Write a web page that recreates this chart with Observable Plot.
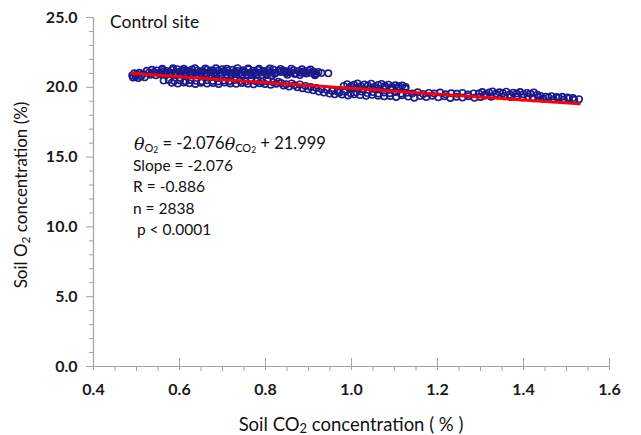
<!DOCTYPE html>
<html><head><meta charset="utf-8">
<script src="https://cdn.jsdelivr.net/npm/d3@7"></script>
<script src="https://cdn.jsdelivr.net/npm/@observablehq/plot@0.6"></script>
<style>
html,body{margin:0;padding:0;background:#fff;}
#chart svg{display:block;}
</style>
</head><body><div id="chart"></div>
<script>
// ---- data: [CO2 %, O2 %], grouped by visible clusters ----
const leftCap = [[0.490,20.85],[0.492,20.70],[0.495,21.00],[0.498,20.78],[0.501,20.92],[0.504,20.66],[0.507,21.04],[0.511,20.80],[0.515,20.95],[0.519,20.72]];
const upperCrest = [[0.560,21.33],[0.585,21.36],[0.610,21.32],[0.636,21.37],[0.660,21.34],[0.685,21.36],[0.710,21.33],[0.735,21.37],[0.760,21.34],[0.785,21.32],[0.810,21.35],[0.835,21.31],[0.860,21.33],[0.885,21.29],[0.905,21.27]];
const upperTop = [[0.524,21.18],[0.536,21.25],[0.547,21.21],[0.559,21.28],[0.570,21.17],[0.583,21.24],[0.594,21.30],[0.606,21.22],[0.618,21.19],[0.629,21.27],[0.641,21.21],[0.653,21.16],[0.664,21.26],[0.676,21.23],[0.689,21.18],[0.700,21.29],[0.712,21.20],[0.724,21.25],[0.735,21.17],[0.748,21.22],[0.760,21.28],[0.771,21.19],[0.783,21.24],[0.795,21.16],[0.806,21.23],[0.818,21.27],[0.830,21.18],[0.842,21.21],[0.853,21.15],[0.865,21.22],[0.877,21.17],[0.889,21.13],[0.900,21.19],[0.912,21.12],[0.923,21.10]];
const upperMid = [[0.529,21.05],[0.541,21.10],[0.553,21.02],[0.564,21.12],[0.577,21.07],[0.589,21.03],[0.600,21.11],[0.612,21.06],[0.624,21.13],[0.635,21.04],[0.647,21.09],[0.659,21.01],[0.670,21.12],[0.682,21.06],[0.694,21.03],[0.706,21.10],[0.718,21.05],[0.729,21.12],[0.741,21.02],[0.753,21.08],[0.765,21.04],[0.777,21.11],[0.789,21.06],[0.800,21.01],[0.812,21.09],[0.824,21.04],[0.836,21.10],[0.848,21.03],[0.859,21.07],[0.871,21.00],[0.883,21.05],[0.895,20.99],[0.906,21.04],[0.918,20.98],[0.930,21.02]];
const upperFill = [[0.535,20.98],[0.558,21.15],[0.582,20.99],[0.606,21.15],[0.630,20.98],[0.655,21.14],[0.680,20.99],[0.703,21.15],[0.727,20.99],[0.750,21.14],[0.774,20.98],[0.798,21.13],[0.821,20.97],[0.845,21.12],[0.868,20.95],[0.892,21.08],[0.915,20.94]];
const upperLow = [[0.532,20.90],[0.545,20.86],[0.557,20.94],[0.568,20.88],[0.580,20.95],[0.592,20.87],[0.603,20.92],[0.615,20.85],[0.627,20.93],[0.639,20.89],[0.650,20.96],[0.662,20.86],[0.674,20.91],[0.686,20.94],[0.697,20.87],[0.709,20.92],[0.721,20.85],[0.733,20.95],[0.745,20.89],[0.756,20.93],[0.768,20.86],[0.780,20.91],[0.792,20.88],[0.804,20.94],[0.815,20.86],[0.851,20.90],[0.880,20.88],[0.915,20.87],[0.946,21.00]];
const lowerA = [[0.563,20.48],[0.575,20.52],[0.588,20.45],[0.601,20.50],[0.614,20.43],[0.626,20.53],[0.639,20.47],[0.652,20.44],[0.664,20.51],[0.677,20.46],[0.690,20.42],[0.703,20.49],[0.716,20.44],[0.728,20.52],[0.741,20.45],[0.754,20.41],[0.767,20.48],[0.779,20.43],[0.792,20.38],[0.805,20.44],[0.818,20.37],[0.830,20.40]];
const lowerB = [[0.582,20.32],[0.596,20.27],[0.610,20.35],[0.623,20.29],[0.637,20.24],[0.650,20.33],[0.664,20.27],[0.678,20.30],[0.691,20.23],[0.705,20.34],[0.718,20.28],[0.732,20.25],[0.745,20.31],[0.759,20.26],[0.772,20.21],[0.786,20.29],[0.799,20.24],[0.812,20.19],[0.825,20.26]];
const transition = [[0.836,20.30],[0.842,20.12],[0.848,20.22],[0.855,20.05],[0.861,20.28],[0.867,20.15],[0.874,20.00],[0.880,20.20],[0.886,19.94],[0.893,20.10],[0.899,19.86],[0.905,20.02],[0.911,19.78],[0.918,19.95],[0.924,19.70],[0.930,19.88],[0.936,19.62],[0.943,19.80],[0.949,19.55],[0.955,19.74],[0.961,19.50],[0.968,19.68]];
const blobOne = [[0.982,20.10],[0.990,20.22],[0.998,20.05],[1.006,20.18],[1.014,20.28],[1.022,20.08],[1.030,20.20],[1.038,20.12],[1.046,20.26],[1.054,20.04],[1.062,20.17],[1.070,20.24],[1.078,20.09],[1.086,20.19],[1.094,20.03],[1.102,20.14],[1.110,20.07],[1.118,20.12],[1.126,20.02],[0.995,19.92],[1.012,19.96],[1.028,19.88],[1.045,19.95],[1.061,19.90],[1.077,19.97],[1.093,19.89],[1.109,19.94],[1.125,19.91]];
const middleA = [[0.972,19.62],[0.985,19.68],[0.998,19.57],[1.011,19.64],[1.024,19.70],[1.037,19.59],[1.050,19.66],[1.063,19.55],[1.076,19.63],[1.089,19.58],[1.102,19.67],[1.115,19.54],[1.128,19.61],[1.141,19.56],[1.154,19.64],[1.167,19.52],[1.180,19.59],[1.193,19.55],[1.206,19.62],[1.219,19.50],[1.232,19.57],[1.245,19.53],[1.258,19.60],[1.271,19.49],[1.284,19.56]];
const middleB = [[0.978,19.48],[0.992,19.42],[1.006,19.50],[1.020,19.44],[1.034,19.39],[1.048,19.46],[1.062,19.40],[1.076,19.35],[1.090,19.38],[1.104,19.31],[1.118,19.43],[1.132,19.34],[1.146,19.26],[1.160,19.37],[1.174,19.30],[1.188,19.40],[1.202,19.28],[1.216,19.35],[1.230,19.24],[1.244,19.33],[1.258,19.27],[1.272,19.36],[1.286,19.25],[1.300,19.31]];
const blobTwo = [[1.296,19.55],[1.304,19.66],[1.312,19.50],[1.320,19.62],[1.328,19.70],[1.336,19.53],[1.344,19.64],[1.352,19.58],[1.360,19.68],[1.368,19.48],[1.376,19.61],[1.384,19.55],[1.392,19.66],[1.400,19.50],[1.408,19.60],[1.416,19.53],[1.424,19.63],[1.432,19.47]];
const tail = [[1.310,19.40],[1.325,19.33],[1.340,19.42],[1.355,19.36],[1.370,19.30],[1.385,19.38],[1.398,19.27],[1.410,19.34],[1.422,19.22],[1.434,19.30],[1.446,19.18],[1.458,19.27],[1.470,19.14],[1.482,19.24],[1.494,19.12],[1.506,19.20],[1.518,19.10],[1.529,19.15],[1.440,19.38],[1.452,19.33],[1.465,19.36],[1.477,19.30],[1.490,19.32],[1.502,19.27],[1.515,19.23]];

// regression reported on the chart
const fitSlope = -2.076;
const fitIntercept = 21.999;
const fitRange = [0.49, 1.53];

// axes
const xMajor = [0.4, 0.6, 0.8, 1.0, 1.2, 1.4, 1.6];
const xMinor = [0.45, 0.5, 0.55, 0.65, 0.7, 0.75, 0.85, 0.9, 0.95, 1.05, 1.1, 1.15, 1.25, 1.3, 1.35, 1.45, 1.5, 1.55];
const yMajor = [0, 5, 10, 15, 20, 25];
const yMinor = [1, 2, 3, 4, 6, 7, 8, 9, 11, 12, 13, 14, 16, 17, 18, 19, 21, 22, 23, 24];

// texts
const siteLabel = "Control site";
const statLines = ["Slope = -2.076", "R = -0.886", "n = 2838", " p < 0.0001"];

// ---- build ----
const clusters = [leftCap, upperCrest, upperTop, upperMid, upperFill, upperLow, lowerA, lowerB, transition, blobOne, middleA, middleB, blobTwo, tail];
const points = clusters.flat().map(([x, y]) => ({x, y}));
const fit = fitRange.map(x => ({x, y: fitSlope * x + fitIntercept}));

const axisColor = "#a3a3a3";
const navy = "#1a1a8c";
const font = "Lato, 'Open Sans', sans-serif";

const chart = Plot.plot({
  width: 641,
  height: 435,
  marginLeft: 93,
  marginRight: 32,
  marginTop: 17,
  marginBottom: 69,
  style: {fontFamily: font, background: "#fff", color: "#1a1a1a"},
  x: {domain: [0.4, 1.6], label: null},
  y: {domain: [0, 25], label: null},
  marks: [
    Plot.ruleX([0.4], {stroke: axisColor, strokeWidth: 1.2}),
    Plot.ruleY([0], {stroke: axisColor, strokeWidth: 1.2}),
    Plot.axisX({ticks: xMinor, tickSize: 5, tickFormat: () => "", stroke: axisColor, label: null}),
    Plot.axisX({ticks: xMajor, tickSize: 12, dy: -8, tickFormat: () => "", stroke: axisColor, label: null}),
    Plot.axisX({ticks: xMajor, tickSize: 0, tickPadding: 17, tickFormat: d => d.toFixed(1), fontSize: 16, fontWeight: "bold", fill: "#1a1a1a", label: null}),
    Plot.axisY({ticks: yMinor, tickSize: 4, tickFormat: () => "", stroke: axisColor, label: null}),
    Plot.axisY({ticks: yMajor, tickSize: 7, tickFormat: () => "", stroke: axisColor, label: null}),
    Plot.axisY({ticks: yMajor, tickSize: 0, tickPadding: 16, tickFormat: d => d.toFixed(1), fontSize: 16, fontWeight: "bold", fill: "#1a1a1a", label: null}),
    Plot.dot(points, {x: "x", y: "y", r: 3.2, stroke: navy, strokeWidth: 1.6, fill: "none"}),
    Plot.line(fit, {x: "x", y: "y", stroke: "#ff0000", strokeWidth: 3})
  ]
});
document.getElementById("chart").appendChild(chart);

// ---- titles & annotations with subscripts ----
const svg = d3.select(chart);
function rich(g, parts) {
  parts.forEach(p => {
    const t = g.append("tspan").text(p.t);
    if (p.sub) t.attr("dy", p.sub);
    if (p.size) t.attr("font-size", p.size);
    if (p.italic) t.attr("font-style", "italic").attr("font-family", "'DejaVu Serif', serif");
  });
}
const ann = svg.append("g").attr("font-family", font).attr("fill", "#111").attr("text-anchor", "start");

// y title
const yt = ann.append("text")
  .attr("transform", "translate(23,195) rotate(-90)")
  .attr("text-anchor", "middle").attr("font-size", 17).attr("dominant-baseline", "middle");
rich(yt, [{t: "Soil O"}, {t: "2", sub: 4, size: 12}, {t: " concentration (%)", sub: -4, size: 17}]);

// x title
const xt = ann.append("text")
  .attr("x", 351).attr("y", 426)
  .attr("text-anchor", "middle").attr("font-size", 18.5).attr("dominant-baseline", "middle");
rich(xt, [{t: "Soil CO"}, {t: "2", sub: 4, size: 13}, {t: " concentration ( % )", sub: -4, size: 18.5}]);

// site label
ann.append("text").attr("x", 110).attr("y", 24).attr("dominant-baseline", "middle")
  .attr("font-size", 17.5).text(siteLabel);

// equation
const eq = ann.append("text").attr("x", 134).attr("y", 145).attr("dominant-baseline", "middle").attr("font-size", 16.5);
rich(eq, [
  {t: "θ", italic: true, size: 17.5},
  {t: "O", sub: 4, size: 11}, {t: "2", sub: 2, size: 8.5},
  {t: " = -2.076", sub: -6, size: 16.5},
  {t: "θ", italic: true, size: 17.5},
  {t: "CO", sub: 4, size: 11}, {t: "2", sub: 2, size: 8.5},
  {t: " + 21.999", sub: -6, size: 16.5}
]);

// stats
statLines.forEach((s, i) => {
  ann.append("text").attr("x", 133).attr("y", 167 + i * 21.3)
    .attr("dominant-baseline", "middle").attr("font-size", 15.5)
    .attr("xml:space", "preserve").style("white-space", "pre").text(s);
});
</script>
</body></html>
